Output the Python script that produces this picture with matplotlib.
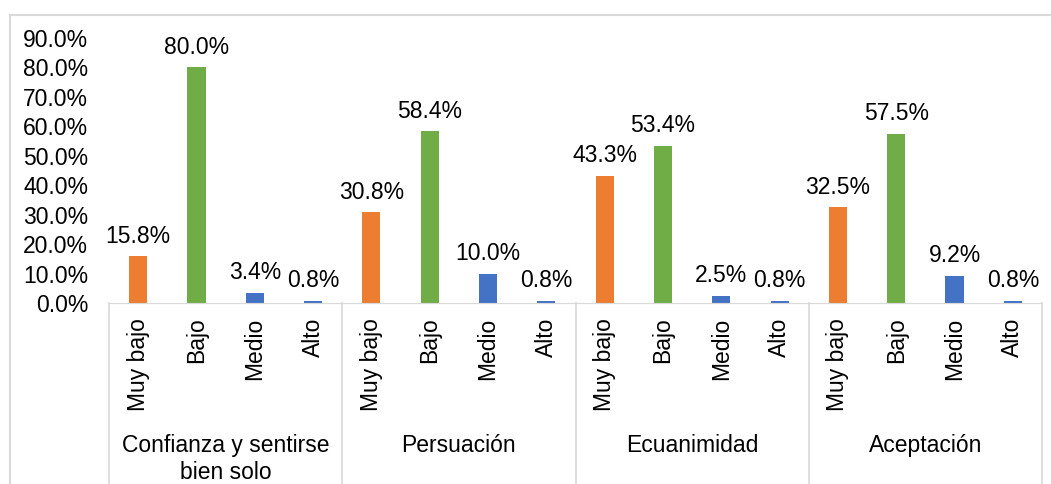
import matplotlib.pyplot as plt
from matplotlib.patches import Rectangle
from matplotlib.lines import Line2D

plt.rcParams['font.family'] = ['Liberation Sans', 'DejaVu Sans']

# datos
grupos = ['Confianza y sentirse\nbien solo', 'Persuación', 'Ecuanimidad', 'Aceptación']
niveles = ['Muy bajo', 'Bajo', 'Medio', 'Alto']
muy_bajo = [15.8, 30.8, 43.3, 32.5]
bajo = [80.0, 58.4, 53.4, 57.5]
medio = [3.4, 10.0, 2.5, 9.2]
alto = [0.8, 0.8, 0.8, 0.8]
colores = ['#ED7D31', '#70AD47', '#4472C4', '#4472C4']

W, H = 1051, 484
fig = plt.figure(figsize=(W / 100, H / 100), dpi=100)
x0, x1, y0, y1 = 109, 1042, 303, 38
ax = fig.add_axes([x0 / W, (H - y0) / H, (x1 - x0) / W, (y0 - y1) / H])

fs = 16.5
gris = '#D9D9D9'
series = [muy_bajo, bajo, medio, alto]
for g in range(len(grupos)):
    for k in range(4):
        x = g * 4 + k
        v = series[k][g]
        ax.bar(x, v / 100, width=0.31, color=colores[k])
        ax.text(x, v / 100 + 0.046, f'{v:.1f}%', ha='center', va='baseline', fontsize=fs)

ax.set_xlim(-0.5, len(grupos) * 4 - 0.5)
ax.set_ylim(0, 0.9)
ax.set_yticks([i / 10 for i in range(10)])
ax.set_yticklabels([f'{i * 10:.1f}%' for i in range(10)], fontsize=fs)
ax.tick_params(axis='y', length=0, pad=15)
ax.set_xticks([])
for s in ['top', 'right', 'left']:
    ax.spines[s].set_visible(False)
ax.spines['bottom'].set_color(gris)

# etiquetas de niveles y grupos
for g, nombre in enumerate(grupos):
    for k, n in enumerate(niveles):
        ax.text(g * 4 + k, -0.05, n, rotation=90, ha='center', va='top', fontsize=fs)
    ax.text(g * 4 + 1.5, -0.445, nombre, ha='center', va='top', fontsize=fs, linespacing=1.22)

# separadores de grupos
for b in range(len(grupos) + 1):
    xb = b * 4 - 0.5
    ax.add_line(Line2D([xb, xb], [0, -0.75], color=gris, lw=1.2, clip_on=False,
                       transform=ax.transData))

# borde exterior
fig.patches.append(Rectangle((10 / W, -0.1), 1.2, (H - 15) / H + 0.1, transform=fig.transFigure,
                             fill=False, edgecolor=gris, lw=1.5))

plt.savefig('out.png', dpi=100)
